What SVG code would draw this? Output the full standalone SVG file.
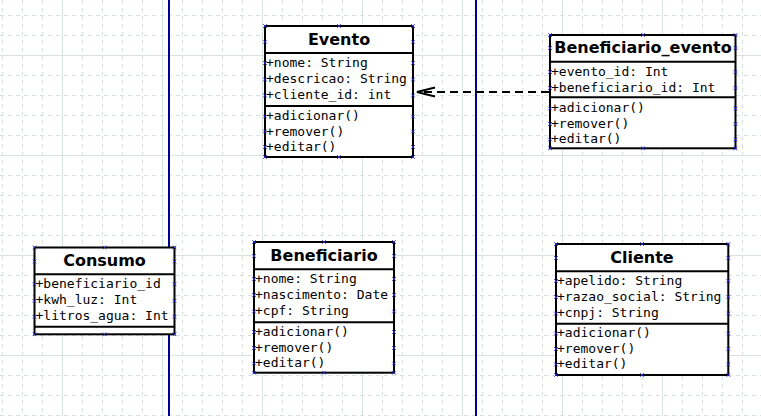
<svg xmlns="http://www.w3.org/2000/svg" xmlns:xlink="http://www.w3.org/1999/xlink" width="761" height="416" viewBox="0 0 761 416">
<defs>
<style>
.grid{stroke:#d8e3e1;stroke-width:1;stroke-dasharray:4 4;fill:none}
.gridm{stroke:#d8e3e1;stroke-width:1;fill:none}
.guide{stroke:#000090;stroke-width:2}
.box{fill:#ffffff;stroke:#000000;stroke-width:2}
.div{stroke:#000000;stroke-width:2}
.title{font-family:"DejaVu Sans",sans-serif;font-weight:bold;font-size:16px;text-anchor:middle;fill:#000}
.mem{font-family:"DejaVu Sans Mono",monospace;font-size:13px;fill:#000}
.cp{stroke:#2020e0;stroke-width:0.9;fill:none}
.conn{stroke:#000;stroke-width:2;fill:none}
</style>
<path id="cp" class="cp" d="M-1.8,-1.8L1.8,1.8M-1.8,1.8L1.8,-1.8"/>
</defs>
<rect width="761" height="416" fill="#ffffff"/>
<g id="grid">
<path class="grid" d="M2.5,0V416M22.5,0V416M42.5,0V416M82.5,0V416M102.5,0V416M122.5,0V416M142.5,0V416M182.5,0V416M202.5,0V416M222.5,0V416M242.5,0V416M282.5,0V416M302.5,0V416M322.5,0V416M342.5,0V416M382.5,0V416M402.5,0V416M422.5,0V416M442.5,0V416M482.5,0V416M502.5,0V416M522.5,0V416M542.5,0V416M582.5,0V416M602.5,0V416M622.5,0V416M642.5,0V416M682.5,0V416M702.5,0V416M722.5,0V416M742.5,0V416"/>
<path class="grid" d="M0,15.5H761M0,35.5H761M0,75.5H761M0,95.5H761M0,115.5H761M0,135.5H761M0,175.5H761M0,195.5H761M0,215.5H761M0,235.5H761M0,275.5H761M0,295.5H761M0,315.5H761M0,335.5H761M0,375.5H761M0,395.5H761M0,415.5H761"/>
<path class="gridm" d="M62.5,0V416M162.5,0V416M262.5,0V416M362.5,0V416M462.5,0V416M562.5,0V416M662.5,0V416M0,55.5H761M0,155.5H761M0,255.5H761M0,355.5H761"/>
</g>
<g id="guides">
<line class="guide" x1="169" y1="0" x2="169" y2="416"/>
<line class="guide" x1="476" y1="0" x2="476" y2="416"/>
</g>
<g id="connectors">
<line class="conn" x1="549" y1="92" x2="418" y2="92" stroke-dasharray="8 5"/>
<path class="conn" d="M435,87.5L417,92L435,96.5"/>
</g>
<g id="Evento">
<rect class="box" x="265" y="26" width="148" height="131"/>
<line class="div" x1="265" y1="53" x2="413" y2="53"/>
<line class="div" x1="265" y1="106" x2="413" y2="106"/>
<text class="title" x="339" y="45">Evento</text>
<text class="mem" x="266" y="66.5">+nome: String</text>
<text class="mem" x="266" y="83">+descricao: String</text>
<text class="mem" x="266" y="99">+cliente_id: int</text>
<text class="mem" x="266" y="120">+adicionar()</text>
<text class="mem" x="266" y="135.5">+remover()</text>
<text class="mem" x="266" y="151">+editar()</text>
<g>
<use href="#cp" x="265" y="26"/><use href="#cp" x="339" y="26"/><use href="#cp" x="413" y="26"/>
<use href="#cp" x="265" y="41.7"/><use href="#cp" x="413" y="41.7"/>
<use href="#cp" x="265" y="63"/><use href="#cp" x="413" y="63"/>
<use href="#cp" x="265" y="79.5"/><use href="#cp" x="413" y="79.5"/>
<use href="#cp" x="265" y="95.5"/><use href="#cp" x="413" y="95.5"/>
<use href="#cp" x="265" y="116.5"/><use href="#cp" x="413" y="116.5"/>
<use href="#cp" x="265" y="131.5"/><use href="#cp" x="413" y="131.5"/>
<use href="#cp" x="265" y="147"/><use href="#cp" x="413" y="147"/>
<use href="#cp" x="265" y="157"/><use href="#cp" x="339" y="157"/><use href="#cp" x="413" y="157"/>
</g>
</g>
<g id="Beneficiario_evento">
<rect class="box" x="550" y="35" width="185.5" height="113.3"/>
<line class="div" x1="550" y1="61.7" x2="735.5" y2="61.7"/>
<line class="div" x1="550" y1="97.3" x2="735.5" y2="97.3"/>
<text class="title" x="643" y="52.7">Beneficiario_evento</text>
<text class="mem" x="551" y="75.7">+evento_id: Int</text>
<text class="mem" x="551" y="91.7">+beneficiario_id: Int</text>
<text class="mem" x="551" y="112.3">+adicionar()</text>
<text class="mem" x="551" y="127.7">+remover()</text>
<text class="mem" x="551" y="143.3">+editar()</text>
<g>
<use href="#cp" x="550" y="35"/><use href="#cp" x="643" y="35"/><use href="#cp" x="735.5" y="35"/>
<use href="#cp" x="550" y="48"/><use href="#cp" x="735.5" y="48"/>
<use href="#cp" x="550" y="72"/><use href="#cp" x="735.5" y="72"/>
<use href="#cp" x="550" y="88"/><use href="#cp" x="735.5" y="88"/>
<use href="#cp" x="550" y="108.5"/><use href="#cp" x="735.5" y="108.5"/>
<use href="#cp" x="550" y="124"/><use href="#cp" x="735.5" y="124"/>
<use href="#cp" x="550" y="139.5"/><use href="#cp" x="735.5" y="139.5"/>
<use href="#cp" x="550" y="148.3"/><use href="#cp" x="643" y="148.3"/><use href="#cp" x="735.5" y="148.3"/>
</g>
</g>
<g id="Consumo">
<rect class="box" x="34.5" y="247.5" width="140" height="86.8"/>
<line class="div" x1="34.5" y1="274.3" x2="174.5" y2="274.3"/>
<line class="div" x1="34.5" y1="326.7" x2="174.5" y2="326.7"/>
<text class="title" x="104.5" y="266">Consumo</text>
<text class="mem" x="35.5" y="287.7">+beneficiario_id</text>
<text class="mem" x="35.5" y="304">+kwh_luz: Int</text>
<text class="mem" x="35.5" y="320">+litros_agua: Int</text>
<g>
<use href="#cp" x="34.5" y="247.5"/><use href="#cp" x="104.5" y="247.5"/><use href="#cp" x="174.5" y="247.5"/>
<use href="#cp" x="34.5" y="261.5"/><use href="#cp" x="174.5" y="261.5"/>
<use href="#cp" x="34.5" y="284.3"/><use href="#cp" x="174.5" y="284.3"/>
<use href="#cp" x="34.5" y="301"/><use href="#cp" x="174.5" y="301"/>
<use href="#cp" x="34.5" y="316.7"/><use href="#cp" x="174.5" y="316.7"/>
<use href="#cp" x="34.5" y="334.3"/><use href="#cp" x="104.5" y="334.3"/><use href="#cp" x="174.5" y="334.3"/>
</g>
</g>
<g id="Beneficiario">
<rect class="box" x="254" y="242" width="140" height="130.7"/>
<line class="div" x1="254" y1="269.3" x2="394" y2="269.3"/>
<line class="div" x1="254" y1="322.3" x2="394" y2="322.3"/>
<text class="title" x="324" y="261">Beneficiario</text>
<text class="mem" x="255" y="282.7">+nome: String</text>
<text class="mem" x="255" y="299">+nascimento: Date</text>
<text class="mem" x="255" y="315.3">+cpf: String</text>
<text class="mem" x="255" y="336">+adicionar()</text>
<text class="mem" x="255" y="351.7">+remover()</text>
<text class="mem" x="255" y="367">+editar()</text>
<g>
<use href="#cp" x="254" y="242"/><use href="#cp" x="324" y="242"/><use href="#cp" x="394" y="242"/>
<use href="#cp" x="254" y="256"/><use href="#cp" x="394" y="256"/>
<use href="#cp" x="254" y="279"/><use href="#cp" x="394" y="279"/>
<use href="#cp" x="254" y="295"/><use href="#cp" x="394" y="295"/>
<use href="#cp" x="254" y="311.5"/><use href="#cp" x="394" y="311.5"/>
<use href="#cp" x="254" y="332"/><use href="#cp" x="394" y="332"/>
<use href="#cp" x="254" y="348"/><use href="#cp" x="394" y="348"/>
<use href="#cp" x="254" y="363.5"/><use href="#cp" x="394" y="363.5"/>
<use href="#cp" x="254" y="372.7"/><use href="#cp" x="324" y="372.7"/><use href="#cp" x="394" y="372.7"/>
</g>
</g>
<g id="Cliente">
<rect class="box" x="556" y="244" width="172.3" height="131"/>
<line class="div" x1="556" y1="271.3" x2="728.3" y2="271.3"/>
<line class="div" x1="556" y1="323.7" x2="728.3" y2="323.7"/>
<text class="title" x="642" y="262.7">Cliente</text>
<text class="mem" x="557" y="285">+apelido: String</text>
<text class="mem" x="557" y="301">+razao_social: String</text>
<text class="mem" x="557" y="317.3">+cnpj: String</text>
<text class="mem" x="557" y="337.3">+adicionar()</text>
<text class="mem" x="557" y="353">+remover()</text>
<text class="mem" x="557" y="368.3">+editar()</text>
<g>
<use href="#cp" x="556" y="244"/><use href="#cp" x="642" y="244"/><use href="#cp" x="728.3" y="244"/>
<use href="#cp" x="556" y="258"/><use href="#cp" x="728.3" y="258"/>
<use href="#cp" x="556" y="281"/><use href="#cp" x="728.3" y="281"/>
<use href="#cp" x="556" y="297"/><use href="#cp" x="728.3" y="297"/>
<use href="#cp" x="556" y="313.5"/><use href="#cp" x="728.3" y="313.5"/>
<use href="#cp" x="556" y="333.5"/><use href="#cp" x="728.3" y="333.5"/>
<use href="#cp" x="556" y="349"/><use href="#cp" x="728.3" y="349"/>
<use href="#cp" x="556" y="364.5"/><use href="#cp" x="728.3" y="364.5"/>
<use href="#cp" x="556" y="375"/><use href="#cp" x="642" y="375"/><use href="#cp" x="728.3" y="375"/>
</g>
</g>
</svg>
